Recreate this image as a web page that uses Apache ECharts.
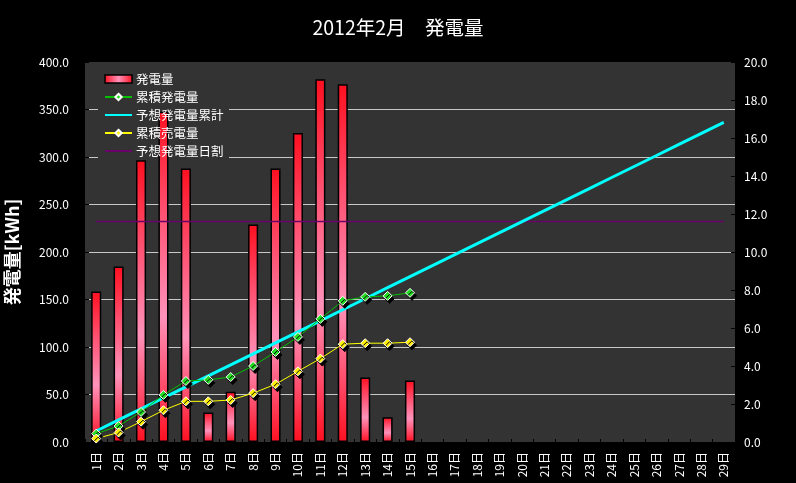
<!DOCTYPE html>
<html>
<head>
<meta charset="utf-8">
<script src="https://cdn.jsdelivr.net/npm/echarts@6/dist/echarts.min.js"></script>
<style>
html,body{margin:0;padding:0;background:#000;}
#chart{width:796px;height:483px;}
</style>
</head>
<body>
<div id="chart"></div>
<script>
var categories = ["1日","2日","3日","4日","5日","6日","7日","8日","9日","10日","11日","12日","13日","14日","15日","16日","17日","18日","19日","20日","21日","22日","23日","24日","25日","26日","27日","28日","29日"];
var dailyGeneration = [158.5,184.8,296.5,347.7,288,31,53,229,288,325.3,381.9,376.6,67.9,26,64.7];
var cumulativeGeneration = [0.44,0.84,1.58,2.48,3.21,3.27,3.42,4.00,4.74,5.53,6.48,7.43,7.64,7.69,7.85];
var expectedCumulative = [0.58,1.16,1.74,2.32,2.90,3.48,4.06,4.64,5.22,5.80,6.38,6.96,7.54,8.12,8.70,9.28,9.86,10.44,11.02,11.60,12.18,12.76,13.34,13.92,14.50,15.08,15.66,16.24,16.82];
var cumulativeSold = [0.18,0.50,1.07,1.67,2.14,2.14,2.21,2.57,3.04,3.72,4.39,5.15,5.20,5.20,5.25];
var expectedDaily = [232,232,232,232,232,232,232,232,232,232,232,232,232,232,232,232,232,232,232,232,232,232,232,232,232,232,232,232,232];
var leftTicks = {min:0, max:400, interval:50};
var rightTicks = {min:0, max:20, interval:2};

var FONT = "'Noto Sans CJK JP', sans-serif";
var chart = echarts.init(document.getElementById('chart'));
var barGrad = {type:'linear',x:0,y:0,x2:0,y2:1,colorStops:[
  {offset:0,color:'#ff1020'},{offset:0.3,color:'#ff5070'},{offset:0.62,color:'#ff92ba'},
  {offset:0.85,color:'#ff4562'},{offset:1,color:'#ff1020'}]};
var legendBarGrad = {type:'linear',x:0,y:0,x2:1,y2:0,colorStops:[
  {offset:0,color:'#ff0d1d'},{offset:0.5,color:'#ff92ba'},{offset:1,color:'#ff0d1d'}]};
var shadow = {shadowColor:'#000',shadowBlur:0,shadowOffsetX:2,shadowOffsetY:3};

chart.setOption({
  backgroundColor:'#000',
  animation:false,
  textStyle:{fontFamily:FONT},
  title:{text:'2012年2月　発電量',left:'center',top:13,
    textStyle:{color:'#fff',fontSize:19.5,fontWeight:'normal',fontFamily:FONT}},
  graphic:[{type:'rect',z:1,shape:{x:98,y:67,width:131,height:93},style:{fill:'#333333'}}],
  legend:{orient:'vertical',left:99,top:67,itemWidth:27,itemHeight:8,itemGap:4,
    textStyle:{color:'#fff',fontSize:12.5,lineHeight:14,fontFamily:FONT,padding:[0,0,0,-1]},
    data:[{name:'発電量',icon:'rect',itemStyle:{color:legendBarGrad,borderColor:'#000',borderWidth:1.5}},
      '累積発電量',
      {name:'予想発電量累計',itemStyle:{opacity:0}},
      '累積売電量',
      {name:'予想発電量日割',itemStyle:{opacity:0}}]},
  grid:{left:85,right:61,top:62,bottom:41,containLabel:false,outerBoundsMode:'none',
    show:true,backgroundColor:'#333333',borderWidth:0},
  xAxis:{type:'category',data:categories,
    axisLine:{show:true,lineStyle:{color:'#000'}},
    axisTick:{show:true,inside:true,length:3,lineStyle:{color:'#000'}},
    axisLabel:{color:'#fff',rotate:90,fontSize:12,margin:10,interval:0,fontFamily:FONT}},
  yAxis:[{type:'value',min:leftTicks.min,max:leftTicks.max,interval:leftTicks.interval,
    name:'発電量[kWh]',nameLocation:'middle',nameGap:64,nameRotate:90,
    nameTextStyle:{color:'#fff',fontSize:18,fontWeight:'bold',fontFamily:FONT},
    axisLine:{show:false},
    axisTick:{show:true,inside:true,length:4,lineStyle:{color:'#000'}},
    axisLabel:{color:'#fff',fontSize:12,margin:16,formatter:function(v){return v.toFixed(1);}},
    splitLine:{show:true,showMinLine:false,showMaxLine:false,lineStyle:{color:'#c8c8c8',width:1}}},
   {type:'value',min:rightTicks.min,max:rightTicks.max,interval:rightTicks.interval,
    axisLine:{show:false},
    axisTick:{show:true,inside:true,length:4,lineStyle:{color:'#000'}},
    axisLabel:{color:'#fff',fontSize:12,margin:9,formatter:function(v){return v.toFixed(1);}},
    splitLine:{show:false}}],
  series:[
    {name:'発電量',type:'bar',data:dailyGeneration,barWidth:'45%',z:2,
      itemStyle:{color:barGrad,borderColor:'#000',borderWidth:1.5}},
    {name:'累積発電量',type:'line',yAxisIndex:1,data:cumulativeGeneration,z:5,
      symbol:'diamond',symbolSize:9,
      lineStyle:{color:'#00c000',width:1},
      itemStyle:Object.assign({color:'#22dd22',borderColor:'#fff',borderWidth:1},shadow)},
    {name:'予想発電量累計',type:'line',yAxisIndex:1,data:expectedCumulative,z:4,
      symbol:'none',lineStyle:{color:'#00ffff',width:3},itemStyle:{color:'#00ffff'}},
    {name:'累積売電量',type:'line',yAxisIndex:1,data:cumulativeSold,z:5,
      symbol:'diamond',symbolSize:9,
      lineStyle:{color:'#ffff00',width:1},
      itemStyle:Object.assign({color:'#ffee00',borderColor:'#fff',borderWidth:1},shadow)},
    {name:'予想発電量日割',type:'line',yAxisIndex:0,data:expectedDaily,z:3,
      symbol:'none',lineStyle:{color:'#6a006a',width:1.5},itemStyle:{color:'#6a006a'}}
  ]
});
</script>
</body>
</html>
